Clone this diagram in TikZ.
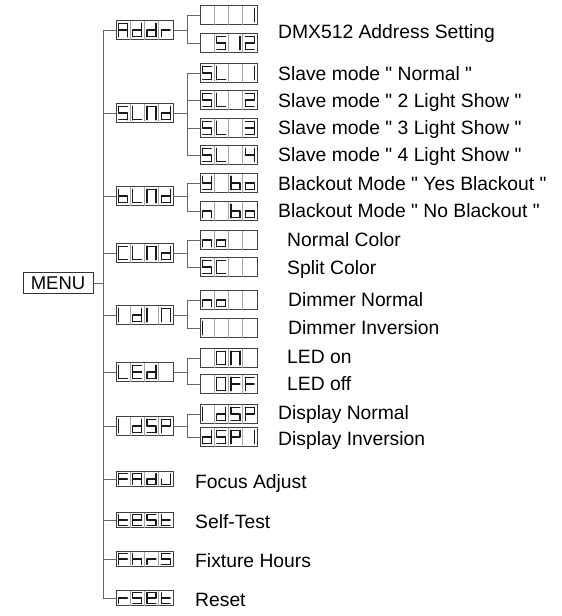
\documentclass[tikz,border=0pt]{standalone}
\usepackage{fontspec}
\setmainfont{Liberation Sans}[Ligatures=TeXOff]
\newcommand\qd{\symbol{34}}
\tikzset{
 seg/.style={line width=1.25pt, line cap=round, black!90},
 dbox/.style={draw=black!75, line width=0.9pt, minimum width=57pt, inner sep=0pt, fill=white},
 csep/.style={draw=black!35, line width=0.6pt},
 conn/.style={draw=black!60, line width=0.9pt},
 lbl/.style={anchor=west, inner sep=0pt, font=\fontsize{19.3}{22}\selectfont, text height=13.9pt, text depth=0pt},
 menubox/.style={draw=black!80, line width=0.8pt, minimum width=70pt, minimum height=21pt, inner sep=0pt, font=\fontsize{18.5}{22}\selectfont}
}
\def\gL{2.6}\def\gR{11.4}
\def\segA{\draw[seg] (\gL,\gT)--(\gR,\gT);}
\def\segB{\draw[seg] (\gR,\gT)--(\gR,\gM);}
\def\segC{\draw[seg] (\gR,\gM)--(\gR,\gB);}
\def\segD{\draw[seg] (\gL,\gB)--(\gR,\gB);}
\def\segE{\draw[seg] (\gL,\gM)--(\gL,\gB);}
\def\segF{\draw[seg] (\gL,\gT)--(\gL,\gM);}
\def\segG{\draw[seg] (\gL,\gM)--(\gR,\gM);}
\def\glyA{\segA\segB\segC\segE\segF\segG}
\def\glyd{\segB\segC\segD\segE\segG}
\def\glyr{\segE\segG}
\def\glyS{\segA\segF\segG\segC\segD}
\def\glyL{\segF\segE\segD}
\def\glyN{\segA\segB\segC\segE\segF}
\def\glyb{\segF\segE\segD\segC\segG}
\def\glyC{\segA\segF\segE\segD}
\def\glyI{\segE\segF}
\def\glyE{\segA\segD\segE\segF\segG}
\def\glyP{\segA\segB\segE\segF\segG}
\def\glyF{\segA\segE\segF\segG}
\def\glyJ{\segB\segC\segD\segE}
\def\glyt{\segD\segE\segF\segG}
\def\glye{\segA\segB\segD\segE\segF\segG}
\def\glyh{\segC\segE\segF\segG}
\def\glyY{\segB\segC\segD\segF\segG}
\def\glyo{\segC\segD\segE\segG}
\def\glyn{\segC\segE\segG}
\def\glyone{\segB\segC}
\def\glytwo{\segA\segB\segG\segE\segD}
\def\glythree{\segA\segB\segG\segC\segD}
\def\glyfour{\segF\segG\segB\segC}
\def\glyzero{\segA\segB\segC\segD\segE\segF}
\def\glyX{}
\newcommand\dbx[8]{%
  \node[dbox, minimum height=#4pt] (#1) at ({#2+28.5},#3) {};
  \pgfmathsetmacro\gT{0.14*#4}%
  \pgfmathsetmacro\gB{0.86*#4}%
  \pgfmathsetmacro\gM{0.5*#4}%
  \pgfmathsetmacro\ytop{#3-0.5*#4}%
  \foreach \k in {1,2,3}{\draw[csep] ({#2+14.25*\k},\ytop) -- ++(0,#4);}
  \begin{scope}[shift={(#2,\ytop)}]#5\end{scope}
  \begin{scope}[shift={(#2+14.25,\ytop)}]#6\end{scope}
  \begin{scope}[shift={(#2+28.5,\ytop)}]#7\end{scope}
  \begin{scope}[shift={(#2+42.75,\ytop)}]#8\end{scope}
}
\begin{document}
\begin{tikzpicture}[x=1pt,y=-1pt]
\useasboundingbox (0,0) rectangle (562,616);
\coordinate (tk) at (103,0);
\coordinate (ex) at (187,0);
% MENU
\node[menubox] (menu) at (58,283) {MENU};
% main items
\dbx{addr}{116}{30}{19}{\glyA}{\glyd}{\glyd}{\glyr}
\dbx{slnd}{116}{113}{19}{\glyS}{\glyL}{\glyN}{\glyd}
\dbx{blnd}{116}{196}{19}{\glyb}{\glyL}{\glyN}{\glyd}
\dbx{clnd}{116}{253}{19}{\glyC}{\glyL}{\glyN}{\glyd}
\dbx{idin}{116}{315}{19}{\glyI}{\glyd}{\glyI}{\glyN}
\dbx{led}{116}{372}{19}{\glyL}{\glyE}{\glyd}{\glyX}
\dbx{idsp}{116}{426}{19}{\glyI}{\glyd}{\glyS}{\glyP}
\dbx{fadj}{116}{479}{15}{\glyF}{\glyA}{\glyd}{\glyJ}
\dbx{test}{116}{520}{15}{\glyt}{\glye}{\glyS}{\glyt}
\dbx{fhrs}{116}{559}{15}{\glyF}{\glyh}{\glyr}{\glyS}
\dbx{rset}{116}{598}{15}{\glyr}{\glyS}{\glye}{\glyt}
% sub items
\dbx{addr1}{200}{15}{19}{\glyX}{\glyX}{\glyX}{\glyone}
\dbx{addr2}{200}{43}{19}{\glyX}{\glyS}{\glyone}{\glytwo}
\dbx{sl1}{200}{73}{19}{\glyS}{\glyL}{\glyX}{\glyone}
\dbx{sl2}{200}{100}{19}{\glyS}{\glyL}{\glyX}{\glytwo}
\dbx{sl3}{200}{128}{19}{\glyS}{\glyL}{\glyX}{\glythree}
\dbx{sl4}{200}{155}{19}{\glyS}{\glyL}{\glyX}{\glyfour}
\dbx{bo1}{200}{183}{19}{\glyY}{\glyX}{\glyb}{\glyo}
\dbx{bo2}{200}{211}{19}{\glyn}{\glyX}{\glyb}{\glyo}
\dbx{cl1}{200}{240}{19}{\glyn}{\glyo}{\glyX}{\glyX}
\dbx{cl2}{200}{267}{19}{\glyS}{\glyC}{\glyX}{\glyX}
\dbx{di1}{200}{300}{19}{\glyn}{\glyo}{\glyX}{\glyX}
\dbx{di2}{200}{328}{19}{\glyI}{\glyX}{\glyX}{\glyX}
\dbx{led1}{200}{358}{19}{\glyX}{\glyzero}{\glyN}{\glyX}
\dbx{led2}{200}{384}{19}{\glyX}{\glyzero}{\glyF}{\glyF}
\dbx{dsp1}{200}{414}{19}{\glyI}{\glyd}{\glyS}{\glyP}
\dbx{dsp2}{200}{437}{19}{\glyd}{\glyS}{\glyP}{\glyone}
% trunk
\draw[conn] (addr.west) -- (addr.west -| tk) -- (rset.west -| tk) -- (rset.west);
\foreach \n in {slnd,blnd,clnd,idin,led,idsp,fadj,test,fhrs}{\draw[conn] (\n.west) -- (\n.west -| tk);}
\draw[conn] (menu.east) -- (menu.east -| tk);
% elbows
\foreach \m/\a/\b in {addr/addr1/addr2, slnd/sl1/sl4, blnd/bo1/bo2, clnd/cl1/cl2, idin/di1/di2, led/led1/led2, idsp/dsp1/dsp2}{
  \draw[conn] (\m.east) -- (\m.east -| ex);
  \draw[conn] (\a.west) -- (\a.west -| ex) -- (\b.west -| ex) -- (\b.west);
}
\draw[conn] (sl2.west) -- (sl2.west -| ex);
\draw[conn] (sl3.west) -- (sl3.west -| ex);
% labels
\node[lbl] (t1) at (278,32) {DMX512 Address Setting};
\node[lbl] (t2) at (278,74) {Slave mode \qd{} Normal \qd};
\node[lbl] (t3) at (278,101) {Slave mode \qd{} 2 Light Show \qd};
\node[lbl] (t4) at (278,128) {Slave mode \qd{} 3 Light Show \qd};
\node[lbl] (t5) at (278,155) {Slave mode \qd{} 4 Light Show \qd};
\node[lbl] (t6) at (278,184) {Blackout Mode \qd{} Yes Blackout \qd};
\node[lbl] (t7) at (278,211) {Blackout Mode \qd{} No Blackout \qd};
\node[lbl] (t8) at (287,240) {Normal Color};
\node[lbl] (t9) at (287,268) {Split Color};
\node[lbl] (t10) at (288,300) {Dimmer Normal};
\node[lbl] (t11) at (288,328) {Dimmer Inversion};
\node[lbl] (t12) at (287,357) {LED on};
\node[lbl] (t13) at (287,384) {LED off};
\node[lbl] (t14) at (278,413) {Display Normal};
\node[lbl] (t15) at (278,439) {Display Inversion};
\node[lbl] (t16) at (195,482) {Focus Adjust};
\node[lbl] (t17) at (195,522) {Self-Test};
\node[lbl] (t18) at (195,561) {Fixture Hours};
\node[lbl] (t19) at (195,600) {Reset};
\end{tikzpicture}
\end{document}
